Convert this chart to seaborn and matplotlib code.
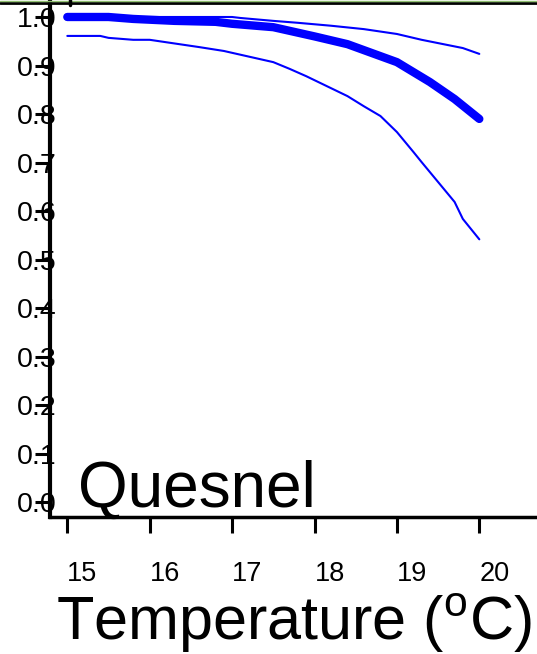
import numpy as np
import pandas as pd
import seaborn as sns
import matplotlib.pyplot as plt
import matplotlib.transforms as mtransforms
from matplotlib.lines import Line2D

sns.set_style('ticks')
plt.rcParams['font.family'] = ['Liberation Sans', 'DejaVu Sans']
plt.rcParams['mathtext.fontset'] = 'custom'
plt.rcParams['mathtext.rm'] = 'Liberation Sans'
plt.rcParams['text.color'] = 'black'
plt.rcParams['axes.edgecolor'] = 'black'

# 평균 생존 곡선 (굵은 선)
mean_temp = [15.0, 15.5, 15.8, 16.3, 16.8, 17.0, 17.5, 18.0, 18.4, 19.0, 19.4, 19.7, 20.0]
mean_surv = [1.0, 1.0, 0.996, 0.992, 0.99, 0.986, 0.979, 0.96, 0.944, 0.907, 0.866, 0.831, 0.790]

# 상한 (얇은 선)
upper_temp = [15.0, 17.0, 17.1, 17.5, 17.8, 18.2, 18.6, 19.0, 19.3, 19.8, 20.0]
upper_surv = [1.0, 1.0, 0.998, 0.992, 0.988, 0.982, 0.975, 0.965, 0.953, 0.936, 0.924]

# 하한 (얇은 선)
lower_temp = [15.0, 15.4, 15.5, 15.8, 16.0, 16.2, 16.6, 16.9, 17.5, 17.7, 17.9,
              18.4, 18.6, 18.8, 19.0, 19.2, 19.3, 19.5, 19.7, 19.8, 20.0]
lower_surv = [0.961, 0.961, 0.957, 0.953, 0.953, 0.948, 0.938, 0.93, 0.907, 0.893, 0.878,
              0.837, 0.816, 0.796, 0.763, 0.722, 0.701, 0.660, 0.619, 0.584, 0.542]

x_ticks = [15, 16, 17, 18, 19, 20]
y_ticks = [0.0, 0.1, 0.2, 0.3, 0.4, 0.5, 0.6, 0.7, 0.8, 0.9, 1.0]
site = 'Quesnel'

df_mean = pd.DataFrame({'temp': mean_temp, 'surv': mean_surv})
df_up = pd.DataFrame({'temp': upper_temp, 'surv': upper_surv})
df_lo = pd.DataFrame({'temp': lower_temp, 'surv': lower_surv})

fig = plt.figure(figsize=(5.37, 6.54), dpi=100)
ax = fig.add_axes([50 / 537, 137 / 654, 487 / 537, 517 / 654])

sns.lineplot(data=df_up, x='temp', y='surv', color='#0000ff', lw=1.5, ax=ax)
sns.lineplot(data=df_lo, x='temp', y='surv', color='#0000ff', lw=1.5, ax=ax)
sns.lineplot(data=df_mean, x='temp', y='surv', color='#0000ff', lw=6,
             solid_capstyle='round', ax=ax)

ax.set_xlim(14.79, 20.70)
ax.set_ylim(-0.03, 1.035)
ax.set_xticks(x_ticks)
ax.set_xticklabels([str(t) for t in x_ticks])
ax.set_yticks(y_ticks)
ax.set_yticklabels(['%.1f' % v for v in y_ticks])

for s in ['top', 'right']:
    ax.spines[s].set_visible(False)
ax.spines['left'].set_linewidth(3)
ax.spines['bottom'].set_linewidth(2.5)

ax.tick_params(axis='y', direction='out', length=11, width=2.2, pad=-16,
               labelsize=20.5, colors='black')
ax.tick_params(axis='x', direction='out', length=11.5, width=2.2, pad=20,
               labelsize=19.5, colors='black')

# x 눈금 라벨을 오른쪽으로 살짝 이동
offset = mtransforms.ScaledTranslation(15 / 100, 0, fig.dpi_scale_trans)
for lab in ax.get_xticklabels():
    lab.set_transform(lab.get_transform() + offset)

ax.set_xlabel(r'Temperature ($^{\mathrm{o}}$C)', fontsize=44, color='black')
ax.xaxis.set_label_coords(0.5, -0.145)
ax.set_ylabel('')

ax.text(0.057, 0.019, site, transform=ax.transAxes, fontsize=46, color='black',
        ha='left', va='baseline')

# 위쪽 테두리
fig.add_artist(Line2D([0, 1], [1 - 2.5 / 654, 1 - 2.5 / 654], color='black', lw=2,
                      transform=fig.transFigure))
fig.add_artist(Line2D([0, 1], [1 - 0.5 / 654, 1 - 0.5 / 654], color='#8fbf6f', lw=1,
                      transform=fig.transFigure))
fig.add_artist(Line2D([70 / 537, 70 / 537], [1, 1 - 5 / 654], color='black', lw=2.5,
                      transform=fig.transFigure))

fig.savefig('out.png', dpi=100)
